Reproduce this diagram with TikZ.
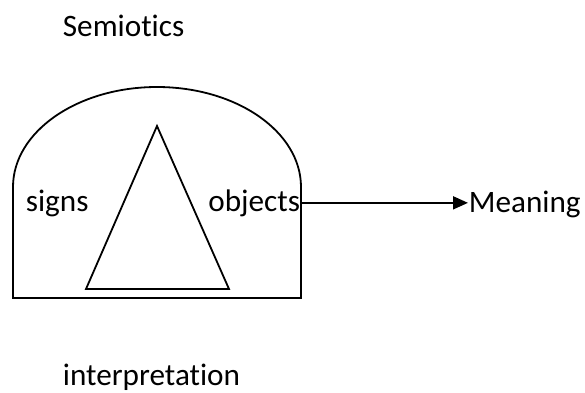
\documentclass[tikz,border=0pt]{standalone}
\usepackage{fontspec}
\setmainfont{Carlito}[Ligatures=NoCommon]
\usepackage{tikz}
\usetikzlibrary{arrows.meta,positioning}
\tikzset{
  ar/.style={-{Triangle[length=7.5pt,width=6.5pt]},line width=0.9pt},
  lbl/.style={inner sep=0pt,font=\fontsize{15.6}{18}\selectfont}
}
\begin{document}
\begin{tikzpicture}[x=0.5pt,y=-0.5pt,line width=0.9pt,line join=miter]
\useasboundingbox (0,0) rectangle (585,392);
% arch with straight sides
\draw (13,298) -- (13,187) arc[start angle=180,end angle=360,x radius=144,y radius=100] -- (301,298) -- cycle;
% triangle inside
\draw (157,126) -- (229,289) -- (86,289) -- cycle;
\node[lbl,anchor=base west] (semiotics) at (62,36) {Semiotics};
\node[lbl,anchor=base west] (signs) at (25,211) {signs};
\node[lbl,anchor=base east] (objects) at (301,211) {objects};
\node[lbl,anchor=base west] (meaning) at (468,212) {Meaning};
\node[lbl,anchor=base west] (interp) at (62,385) {interpretation};
\draw[ar] (objects.east) -- (objects.east -| meaning.west);
\end{tikzpicture}
\end{document}
